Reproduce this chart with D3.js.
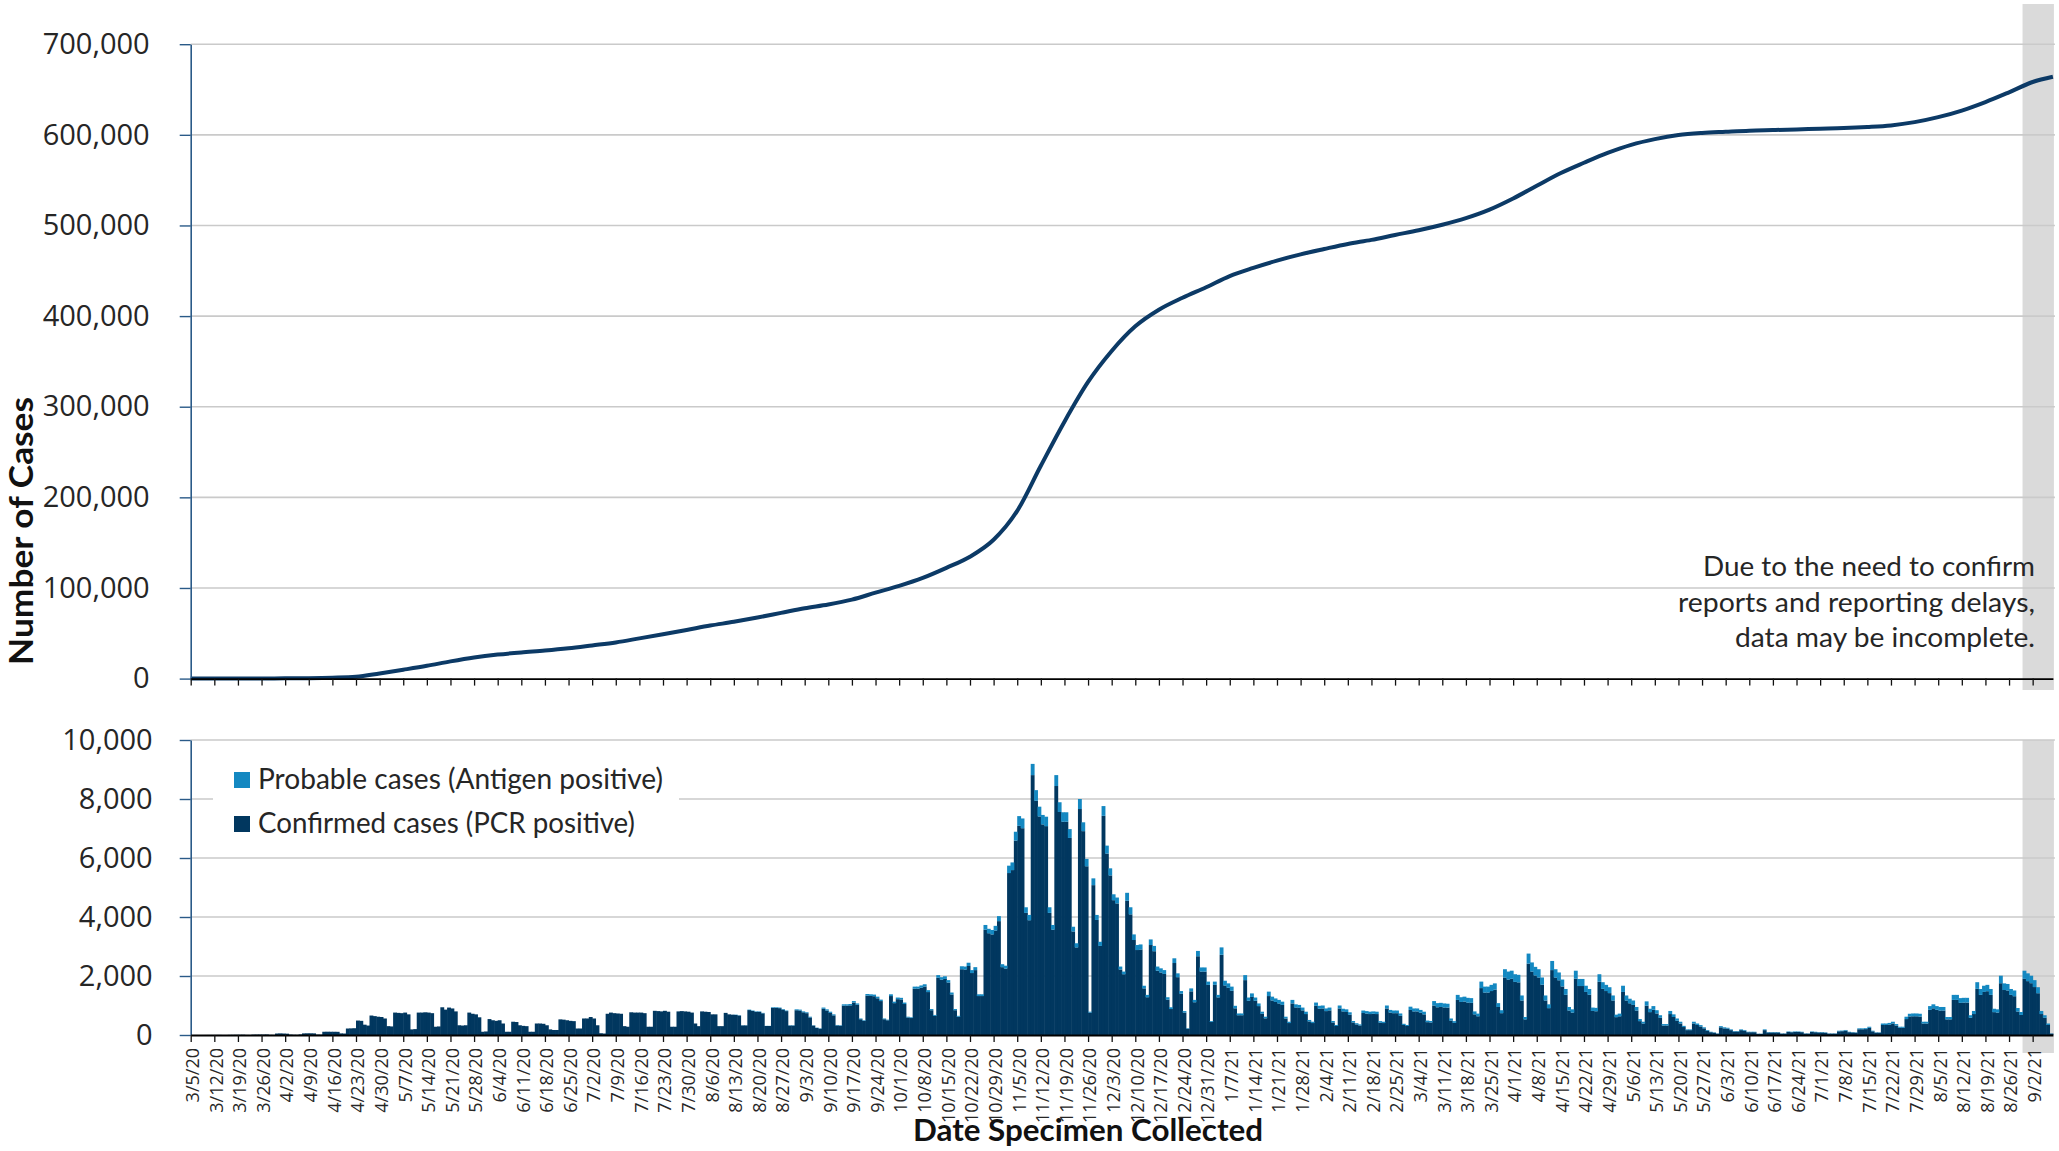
<!DOCTYPE html>
<html><head><meta charset="utf-8">
<script src="https://cdn.jsdelivr.net/npm/d3@7"></script>
<style>
html,body{margin:0;padding:0;background:#fff;}
svg{display:block;}
</style></head>
<body>
<svg id="chart" width="2059" height="1151"></svg>
<script>
// ---------------- DATA ----------------
const startDate = "2020-03-05";          // first daily category (Thursday)
const incompleteFrom = "2021-08-30";     // start of shaded "incomplete" period
const cumulativeEndDate = "2021-09-08";

// Daily total cases (confirmed + probable), one line per week starting Thursday
const totalCases = [
  0,1,0,0,1,2,2,
  3,4,1,1,5,6,8,
  8,10,3,2,12,14,15,
  15,18,6,5,50,55,50,
  45,15,8,6,20,55,58,
  58,55,15,12,110,112,110,
  110,108,55,50,220,225,230,
  490,480,350,320,660,640,620,
  610,560,300,290,760,750,740,
  760,700,190,200,760,760,770,
  760,740,280,290,940,860,930,
  900,800,330,320,330,760,720,
  700,600,110,120,540,500,480,
  500,390,110,110,450,440,330,
  310,300,110,110,390,390,380,
  330,190,170,170,530,520,500,
  480,470,220,220,560,560,610,
  560,330,60,50,720,760,740,
  730,720,300,280,770,760,760,
  760,740,280,280,820,810,800,
  820,790,280,280,800,810,800,
  790,760,390,300,800,790,780,
  700,700,300,300,750,700,690,
  690,670,330,330,860,830,800,
  800,750,310,310,940,940,930,
  880,830,330,330,870,860,800,
  770,620,330,250,225,930,870,
  790,700,340,330,1040,1040,1050,
  1150,1070,560,500,1390,1380,1370,
  1300,1200,560,520,1380,1130,1270,
  1260,1100,620,600,1640,1640,1680,
  1720,1520,880,680,2030,1960,1990,
  1860,1440,880,650,2330,2320,2450,
  2200,2300,1380,1380,3730,3600,3560,
  3700,4030,2400,2350,5740,5850,6890,
  7420,7340,4330,4070,9190,8300,7740,
  7460,7400,4330,3730,8810,7890,7550,
  7550,6980,3670,3110,8000,7210,5970,
  790,5310,4070,3160,7760,6420,5650,
  4770,4660,2320,2150,4820,4330,3410,
  3050,3070,1670,1360,3240,3020,2320,
  2260,2200,1280,940,2600,2090,1490,
  810,230,1580,1190,2850,2290,2290,
  1810,470,1810,1360,2970,1840,1750,
  1640,990,730,730,2030,1270,1410,
  1270,1070,790,620,1470,1300,1240,
  1190,1130,620,450,1190,1040,1020,
  930,790,510,450,1100,990,1000,
  900,930,475,340,1000,890,870,
  770,475,400,360,830,810,790,
  800,790,470,450,1000,850,830,
  830,730,380,340,960,900,900,
  850,790,490,475,1150,1080,1090,
  1070,1060,560,470,1360,1280,1300,
  1260,1250,800,725,1810,1640,1640,
  1700,1750,1080,840,2230,2150,2180,
  2060,2040,1340,610,2760,2460,2310,
  2230,1950,1340,1040,2510,2230,2120,
  1880,1560,950,870,2180,1900,1900,
  1670,1560,930,920,2060,1790,1700,
  1620,1340,690,725,1670,1340,1230,
  1170,950,540,450,1140,890,980,
  840,670,370,370,815,700,560,
  450,310,190,190,450,390,335,
  260,170,110,90,55,300,260,
  245,190,135,135,190,170,110,
  110,110,45,45,190,100,100,
  100,100,55,55,120,110,120,
  120,110,55,55,120,110,100,
  100,90,55,55,55,145,150,
  170,110,100,90,225,225,230,
  280,145,90,90,390,390,410,
  450,370,280,280,620,720,730,
  730,720,450,450,980,1040,980,
  950,950,610,610,1360,1360,1250,
  1260,1260,670,815,1790,1560,1670,
  1700,1560,890,870,2010,1750,1730,
  1560,1510,915,780,2180,2090,2010,
  1860,1620,815,670,390,55
];

// Daily probable (antigen positive) cases, same layout
const probableCases = [
  0,0,0,0,0,0,0,
  0,0,0,0,0,0,0,
  0,0,0,0,0,0,0,
  0,0,0,0,0,0,0,
  0,0,0,0,0,0,0,
  0,0,0,0,0,0,0,
  0,0,0,0,0,0,0,
  0,0,0,0,0,0,0,
  0,0,0,0,0,0,0,
  0,0,0,0,0,0,0,
  0,0,0,0,0,0,0,
  0,0,0,0,0,0,0,
  0,0,0,0,0,0,0,
  0,0,0,0,0,0,0,
  0,0,0,0,0,0,0,
  0,0,0,0,0,0,0,
  0,0,0,0,0,0,0,
  0,0,0,0,0,0,0,
  0,0,0,0,0,0,0,
  0,0,0,0,0,0,0,
  0,0,0,0,0,0,0,
  0,0,0,0,0,0,0,
  0,0,0,0,0,0,0,
  10,10,5,5,15,15,15,
  15,15,5,5,20,20,20,
  20,20,10,10,30,30,30,
  30,25,10,10,10,40,40,
  40,35,15,15,45,45,45,
  50,45,25,20,55,55,55,
  55,50,25,20,60,50,55,
  55,50,25,25,70,70,75,
  75,65,40,30,90,85,90,
  80,65,40,30,100,100,110,
  100,100,60,60,160,150,150,
  160,170,100,100,250,260,300,
  330,330,190,180,380,360,330,
  320,320,190,160,370,330,320,
  320,300,160,140,340,300,250,
  30,230,170,140,330,270,240,
  200,200,100,90,270,240,190,
  170,170,90,80,190,180,140,
  140,130,80,60,160,130,90,
  50,15,100,80,180,140,140,
  110,30,110,85,250,160,150,
  140,85,60,60,170,110,120,
  110,90,70,55,150,130,120,
  120,110,60,45,120,105,100,
  95,80,50,45,110,100,100,
  90,95,50,35,100,90,90,
  80,50,40,35,85,85,80,
  80,80,50,45,100,90,90,
  90,80,40,35,110,100,100,
  95,90,55,50,150,140,140,
  135,130,70,60,170,160,165,
  160,160,100,90,220,200,200,
  210,210,130,100,280,270,275,
  260,255,170,80,340,310,290,
  280,245,170,130,310,280,265,
  235,195,120,110,270,240,240,
  210,195,115,115,255,225,210,
  200,170,85,90,210,170,155,
  150,120,70,60,145,115,125,
  110,85,50,50,105,90,75,
  60,40,25,25,60,50,45,
  35,25,15,12,8,40,35,
  30,25,18,18,25,22,15,
  15,15,6,6,25,14,14,
  14,14,8,8,16,15,16,
  16,15,8,8,16,15,14,
  14,12,8,8,8,20,20,
  22,15,14,12,30,30,30,
  35,20,12,12,50,50,55,
  60,48,36,36,80,90,95,
  95,95,60,60,125,135,125,
  120,120,80,80,170,170,160,
  160,160,85,105,225,200,210,
  215,200,115,110,255,225,220,
  200,195,120,100,275,265,255,
  235,205,105,85,50,8
];

// Cumulative cases, read weekly (each Thursday from 3/5/20), last value at end of series
const cumulativeCases = [
  0,0,0,100,300,500,1000,2000,5700,9800,
  14100,19000,23300,26500,28900,30900,33400,36600,39900,44400,
  49000,53700,58500,62700,67400,72500,77600,81700,87100,94800,
  102300,111100,122200,134500,153200,185100,234900,283500,327300,361500,
  388700,407000,420200,431800,444200,453200,461200,468100,474000,479600,
  484100,489500,494700,500800,508100,517500,529800,543800,557600,569200,
  580100,589000,595300,599800,602100,603400,604600,605300,606000,606700,
  607400,608600,610400,614000,619500,626800,636100,646900,658300,664000
];

const topTicks = [0,100000,200000,300000,400000,500000,600000,700000];
const bottomTicks = [0,2000,4000,6000,8000,10000];
const legendLabels = ["Probable cases (Antigen positive)", "Confirmed cases (PCR positive)"];
const noteLines = ["Due to the need to confirm", "reports and reporting delays,", "data may be incomplete."];
const yTitle = "Number of Cases";
const xTitle = "Date Specimen Collected";

// ---------------- STYLE ----------------
const C_CONF = "#01375f";
const C_PROB = "#1488c1";
const C_LINE = "#0c3a66";
const C_GRID = "#cacaca";
const C_AXIS_Y = "#2a5a88";
const C_TEXT = "#262626";

// ---------------- SCALES ----------------
const parse = d3.utcParse("%Y-%m-%d");
const day0 = parse(startDate);
const nDays = totalCases.length;
const dayEnd = d3.utcDay.offset(day0, nDays);
const X0 = 190.7, X1 = 2052.9;
const x = d3.scaleUtc().domain([day0, dayEnd]).range([X0, X1]);
const yTop = d3.scaleLinear().domain([0, 700000]).range([678.6, 44.2]);
const yBot = d3.scaleLinear().domain([0, 10000]).range([1035, 740]);

const svg = d3.select("#chart");

// shaded incomplete period
const bx = x(parse(incompleteFrom));
svg.append("rect").attr("x", bx).attr("y", 4).attr("width", X1 + 1 - bx).attr("height", 690 - 4).attr("fill", "#dadada");
svg.append("rect").attr("x", bx).attr("y", 740).attr("width", X1 + 1 - bx).attr("height", 1053 - 740).attr("fill", "#dadada");

// gridlines
svg.append("g").selectAll("line").data(topTicks.filter(d => d > 0)).join("line")
  .attr("x1", X0).attr("x2", X1 + 2).attr("y1", d => yTop(d)).attr("y2", d => yTop(d))
  .attr("stroke", C_GRID).attr("stroke-width", 1.6);
svg.append("g").selectAll("line").data(bottomTicks.filter(d => d > 0)).join("line")
  .attr("x1", X0).attr("x2", X1 + 2).attr("y1", d => yBot(d)).attr("y2", d => yBot(d))
  .attr("stroke", C_GRID).attr("stroke-width", 1.6);

// legend background
svg.append("rect").attr("x", 213).attr("y", 750).attr("width", 466).attr("height", 98).attr("fill", "#fff");

// bars
const rows = totalCases.map((t, i) => {
  const p = probableCases[i];
  return { date: d3.utcDay.offset(day0, i), total: t, prob: p, conf: t - p };
});
const dw = x(d3.utcDay.offset(day0, 1)) - x(day0);
const gb = svg.append("g");
gb.selectAll("rect.conf").data(rows).join("rect").attr("class", "conf")
  .attr("x", d => x(d.date)).attr("width", dw + 0.5)
  .attr("y", d => yBot(d.conf)).attr("height", d => yBot(0) - yBot(d.conf))
  .attr("fill", C_CONF);
gb.selectAll("rect.prob").data(rows).join("rect").attr("class", "prob")
  .attr("x", d => x(d.date)).attr("width", dw + 0.5)
  .attr("y", d => yBot(d.total)).attr("height", d => yBot(d.conf) - yBot(d.total))
  .attr("fill", C_PROB);

// cumulative line
const cumPts = cumulativeCases.map((v, i) => ({
  date: i < cumulativeCases.length - 1 ? d3.utcDay.offset(day0, i * 7) : parse(cumulativeEndDate),
  value: v
}));
svg.append("path").datum(cumPts)
  .attr("fill", "none").attr("stroke", C_LINE).attr("stroke-width", 4).attr("stroke-linejoin", "round")
  .attr("d", d3.line().x(d => x(d.date)).y(d => yTop(d.value)).curve(d3.curveMonotoneX));

// ---------------- AXES ----------------
const fmt = d3.format(",");
function styleY(g) {
  g.select(".domain").attr("stroke", C_AXIS_Y).attr("stroke-width", 1.6);
  g.selectAll(".tick line").attr("stroke", C_AXIS_Y).attr("stroke-width", 1.4);
  g.selectAll(".tick text").attr("fill", C_TEXT).attr("font-family", "'Open Sans', sans-serif").attr("font-size", 29);
}
const yAxTop = svg.append("g").attr("transform", `translate(${X0},0)`)
  .call(d3.axisLeft(yTop).tickValues(topTicks).tickFormat(fmt).tickSize(11).tickSizeOuter(0).tickPadding(30));
styleY(yAxTop);
const yAxBot = svg.append("g").attr("transform", `translate(${X0},0)`)
  .call(d3.axisLeft(yBot).tickValues(bottomTicks).tickFormat(fmt).tickSize(11).tickSizeOuter(0).tickPadding(27));
styleY(yAxBot);

const thursdays = d3.utcThursday.range(day0, dayEnd);
function styleX(g) {
  g.select(".domain").attr("stroke", "#000").attr("stroke-width", 1.8);
  g.selectAll(".tick line").attr("stroke", "#111").attr("stroke-width", 1.3);
}
const xAxTop = svg.append("g").attr("transform", `translate(0,${yTop(0)})`)
  .call(d3.axisBottom(x).tickValues(thursdays).tickFormat("").tickSize(7).tickSizeOuter(0));
styleX(xAxTop);
const xAxBot = svg.append("g").attr("transform", `translate(0,${yBot(0)})`)
  .call(d3.axisBottom(x).tickValues(thursdays).tickFormat("").tickSize(7).tickSizeOuter(0));
styleX(xAxBot);

const tfmt = d3.utcFormat("%-m/%-d/%y");
svg.append("g").selectAll("text").data(thursdays).join("text")
  .attr("transform", d => `translate(${x(d) + 2},1048) rotate(-90)`)
  .attr("text-anchor", "end").attr("dy", "0.35em")
  .attr("font-family", "'Open Sans', sans-serif").attr("font-size", 18).attr("fill", C_TEXT)
  .text(d => tfmt(d));

// titles
svg.append("text").attr("transform", "translate(33,531) rotate(-90)")
  .attr("text-anchor", "middle").attr("font-family", "Lato, sans-serif").attr("font-weight", 700)
  .attr("font-size", 33).attr("fill", "#111").attr("textLength", 268).attr("lengthAdjust", "spacingAndGlyphs")
  .text(yTitle);
svg.append("text").attr("x", 1088).attr("y", 1141)
  .attr("text-anchor", "middle").attr("font-family", "Lato, sans-serif").attr("font-weight", 700)
  .attr("font-size", 30).attr("fill", "#111").attr("textLength", 350).attr("lengthAdjust", "spacingAndGlyphs")
  .text(xTitle);

// legend
const legendColors = [C_PROB, C_CONF];
const legendWidths = [405, 377];
legendLabels.forEach((lab, i) => {
  const yb = 789 + i * 44;
  svg.append("rect").attr("x", 234).attr("y", yb - 17).attr("width", 16).attr("height", 16).attr("fill", legendColors[i]);
  svg.append("text").attr("x", 258).attr("y", yb)
    .attr("font-family", "Lato, sans-serif").attr("font-size", 28).attr("fill", C_TEXT)
    .attr("textLength", legendWidths[i]).attr("lengthAdjust", "spacingAndGlyphs")
    .text(lab);
});

// note
const noteWidths = [332, 357, 300];
noteLines.forEach((t, i) => {
  svg.append("text").attr("x", 2035).attr("y", 576 + i * 35.5)
    .attr("text-anchor", "end").attr("font-family", "Lato, sans-serif").attr("font-size", 27).attr("fill", C_TEXT)
    .attr("textLength", noteWidths[i]).attr("lengthAdjust", "spacingAndGlyphs")
    .text(t);
});
</script>
</body></html>
